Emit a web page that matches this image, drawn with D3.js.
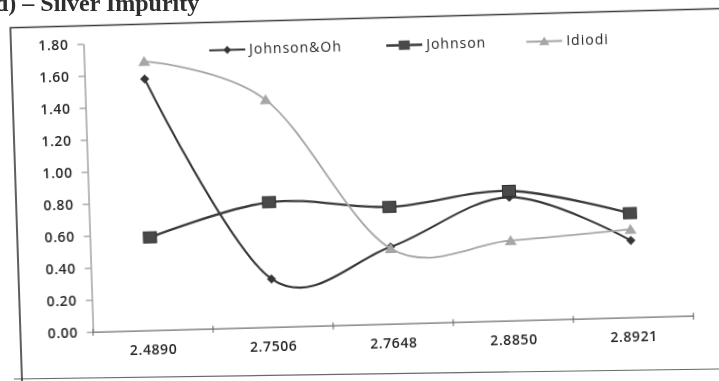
<!DOCTYPE html>
<html>
<head>
<meta charset="utf-8">
<script src="https://cdn.jsdelivr.net/npm/d3@7"></script>
<style>
  html, body { margin: 0; padding: 0; background: #fff; }
  svg { display: block; }
  text { font-family: "Open Sans", "DejaVu Sans", sans-serif; fill: #262626; }
</style>
</head>
<body>
<svg id="chart" width="719" height="381"></svg>
<script>
// Sample positions along the horizontal axis
const categories = ["2.4890", "2.7506", "2.7648", "2.8850", "2.8921"];

// Series values
const johnsonOh = [1.57, 0.30, 0.48, 0.77, 0.48];
const johnson   = [0.58, 0.78, 0.73, 0.81, 0.65];
const idiodi    = [1.68, 1.42, 0.47, 0.50, 0.55];

// Vertical axis ticks
const yTicks = [0, 0.2, 0.4, 0.6, 0.8, 1.0, 1.2, 1.4, 1.6, 1.8];

const seriesNames = ["Johnson&Oh", "Johnson", "Idiodi"];

const series = [
  { name: seriesNames[0], values: johnsonOh, color: "#363636", width: 2.1, marker: "diamond" },
  { name: seriesNames[1], values: johnson,   color: "#3a3a3a", width: 2.3, marker: "square" },
  { name: seriesNames[2], values: idiodi,    color: "#a6a6a6", width: 1.8, marker: "triangle" }
];

const svg = d3.select("#chart");

const defs = svg.append("defs");
defs.append("filter").attr("id", "soft")
  .append("feGaussianBlur").attr("stdDeviation", 0.35);

// Heading, partly running off the top of the sheet
svg.append("text")
  .attr("x", -5).attr("y", 11)
  .style("font-family", "'Liberation Serif', 'DejaVu Serif', serif")
  .style("font-weight", "bold")
  .style("font-size", "24px")
  .style("fill", "#2e2e2e")
  .attr("filter", "url(#soft)")
  .text("d) \u2013 Silver Impurity");

// Lower edge of the chart frame
svg.append("line")
  .attr("x1", 14).attr("y1", 379).attr("x2", 719).attr("y2", 369)
  .attr("stroke", "#6a6a6a").attr("stroke-width", 1.2)
  .attr("filter", "url(#soft)");

// The printed sheet sits slightly askew
const page = svg.append("g")
  .attr("transform", "matrix(1,-0.027,0.033,1,-6.27,9.72)")
  .attr("filter", "url(#soft)");

// Chart frame, left and top edges
page.append("path")
  .attr("d", "M16,420 L16,18.5 L780,18.5")
  .attr("fill", "none").attr("stroke", "#3a3a3a").attr("stroke-width", 1.6);

const x = d3.scaleBand().domain(categories).range([88.5, 689]).padding(0);
const y = d3.scaleLinear().domain([0, 1.8]).range([324.5, 36.5]);
const cx = c => x(c) + x.bandwidth() / 2;

const labelStyle = sel => sel
  .style("font-size", "14px")
  .style("font-weight", "600")
  .style("letter-spacing", "0.6px")
  .attr("fill", "#2a2a2a");

// Y axis
const yAxis = page.append("g")
  .attr("transform", `translate(${x.range()[0]},0)`)
  .call(d3.axisLeft(y).tickValues(yTicks).tickFormat(d3.format(".2f"))
    .tickSizeInner(6).tickSizeOuter(0).tickPadding(9));
yAxis.select(".domain").attr("stroke", "#8c8c8c").attr("stroke-width", 1.2);
yAxis.selectAll(".tick line").attr("stroke", "#8c8c8c").attr("stroke-width", 1.1);
yAxis.selectAll(".tick text").call(labelStyle);

// X axis
const xAxis = page.append("g")
  .attr("transform", `translate(0,${y(0)})`)
  .call(d3.axisBottom(x).tickSizeInner(0).tickSizeOuter(0).tickPadding(14.5));
xAxis.select(".domain").attr("stroke", "#6e6e6e").attr("stroke-width", 1.3);
xAxis.selectAll(".tick text").call(labelStyle);

// Tick marks between categories
const bounds = categories.map(c => x(c)).concat([x.range()[1]]);
xAxis.selectAll(".bound")
  .data(bounds)
  .join("line")
  .attr("class", "bound")
  .attr("x1", d => d).attr("x2", d => d)
  .attr("y1", -3).attr("y2", 4)
  .attr("stroke", "#6e6e6e").attr("stroke-width", 1.1);

// Marker shapes
function markerPath(type) {
  if (type === "diamond") return "M0,-4.6L4.6,0L0,4.6L-4.6,0Z";
  if (type === "square") return "M-6.5,-5.5H6.5V5.5H-6.5Z";
  return "M0,-5.5L6,4.5H-6Z";
}

const line = d3.line()
  .x(d => cx(d.c))
  .y(d => y(d.v))
  .curve(d3.curveCardinal.tension(0));

const lines = page.append("g");
series.forEach(s => {
  const pts = categories.map((c, i) => ({ c, v: s.values[i] }));
  const g = lines.append("g");
  g.append("path")
    .datum(pts)
    .attr("d", line)
    .attr("fill", "none")
    .attr("stroke", s.color)
    .attr("stroke-width", s.width);
  g.selectAll("path.mk")
    .data(pts)
    .join("path")
    .attr("class", "mk")
    .attr("transform", d => `translate(${cx(d.c)},${y(d.v)})`)
    .attr("d", markerPath(s.marker))
    .attr("fill", s.marker === "square" ? "#4a4a4a" : s.color)
    .attr("stroke", s.marker === "square" ? "#2e2e2e" : "none")
    .attr("stroke-width", 1);
});

// Legend
const legendX = [214, 391, 531];
const legendY = 46.5;
const legend = page.append("g");
series.forEach((s, i) => {
  const g = legend.append("g").attr("transform", `translate(${legendX[i]},${legendY})`);
  g.append("line")
    .attr("x1", 0).attr("x2", 36).attr("y1", 0).attr("y2", 0)
    .attr("stroke", s.color).attr("stroke-width", s.width);
  g.append("path")
    .attr("transform", "translate(18,0) scale(0.85)")
    .attr("d", markerPath(s.marker))
    .attr("fill", s.marker === "square" ? "#4a4a4a" : s.color);
  g.append("text")
    .attr("x", 40).attr("y", 0).attr("dy", "0.33em")
    .style("font-size", "14px").style("letter-spacing", "1px")
    .attr("fill", "#2a2a2a")
    .text(s.name);
});
</script>
</body>
</html>
